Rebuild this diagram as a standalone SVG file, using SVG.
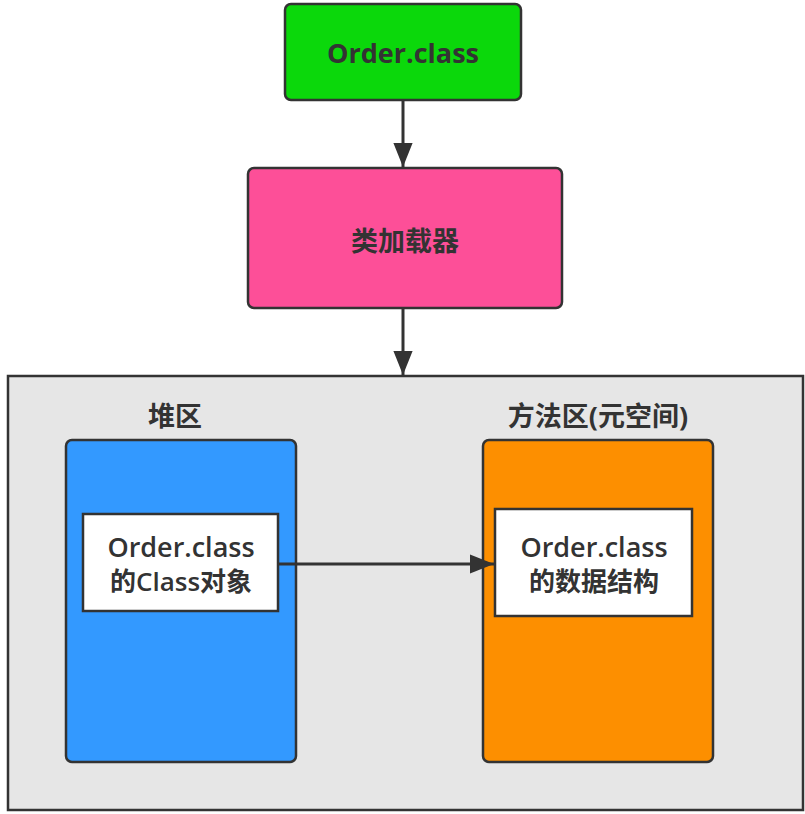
<svg xmlns="http://www.w3.org/2000/svg" width="805" height="814" viewBox="0 0 805 814">
<defs>
<style>
.box{stroke:#333;stroke-width:2.5}
.t{font-family:"Open Sans","Noto Sans CJK SC",sans-serif;fill:#333;text-anchor:middle;dominant-baseline:central}
.b{font-weight:700}
.m{font-weight:600}
.conn{stroke:#333;stroke-width:3;fill:none}
</style>
<marker id="arrBig" viewBox="0 0 10 10" refX="10" refY="5" markerWidth="24" markerHeight="24" markerUnits="userSpaceOnUse" orient="auto">
<path d="M0,1 L10,5 L0,9 z" fill="#333"/>
</marker>
</defs>
<rect width="805" height="814" fill="#ffffff"/>
<g id="container">
<rect class="box" x="8" y="376" width="795" height="434" fill="#e6e6e6"/>
<text class="t b" x="175" y="415" font-size="27">堆区</text>
<text class="t b" x="598" y="415" font-size="27">方法区(元空间)</text>
</g>
<g id="order-class">
<rect class="box" x="285" y="4" width="236" height="96" rx="6" fill="#0bd80b"/>
<text class="t b" x="403" y="52" font-size="27">Order.class</text>
</g>
<g id="classloader">
<rect class="box" x="248" y="168" width="314" height="140" rx="6" fill="#fd4f98"/>
<text class="t b" x="405" y="240" font-size="27">类加载器</text>
</g>
<g id="heap">
<rect class="box" x="66" y="440" width="230" height="322" rx="6" fill="#3399ff"/>
</g>
<g id="class-object">
<rect class="box" x="83" y="514" width="195" height="97" fill="#ffffff"/>
<text class="t m" x="181" y="546" font-size="27">Order.class</text>
<text class="t m" x="181" y="581" font-size="26">的Class对象</text>
</g>
<g id="method-area">
<rect class="box" x="483" y="440" width="230" height="322" rx="6" fill="#fd8f00"/>
</g>
<g id="data-structure">
<rect class="box" x="495" y="509" width="197" height="107" fill="#ffffff"/>
<text class="t m" x="594" y="546" font-size="27">Order.class</text>
<text class="t m" x="594" y="581" font-size="26">的数据结构</text>
</g>
<g id="connectors">
<line class="conn" x1="403" y1="100" x2="403" y2="167" marker-end="url(#arrBig)"/>
<line class="conn" x1="403" y1="308" x2="403" y2="375" marker-end="url(#arrBig)"/>
<line class="conn" x1="278" y1="564" x2="494" y2="564" marker-end="url(#arrBig)"/>
</g>
</svg>
